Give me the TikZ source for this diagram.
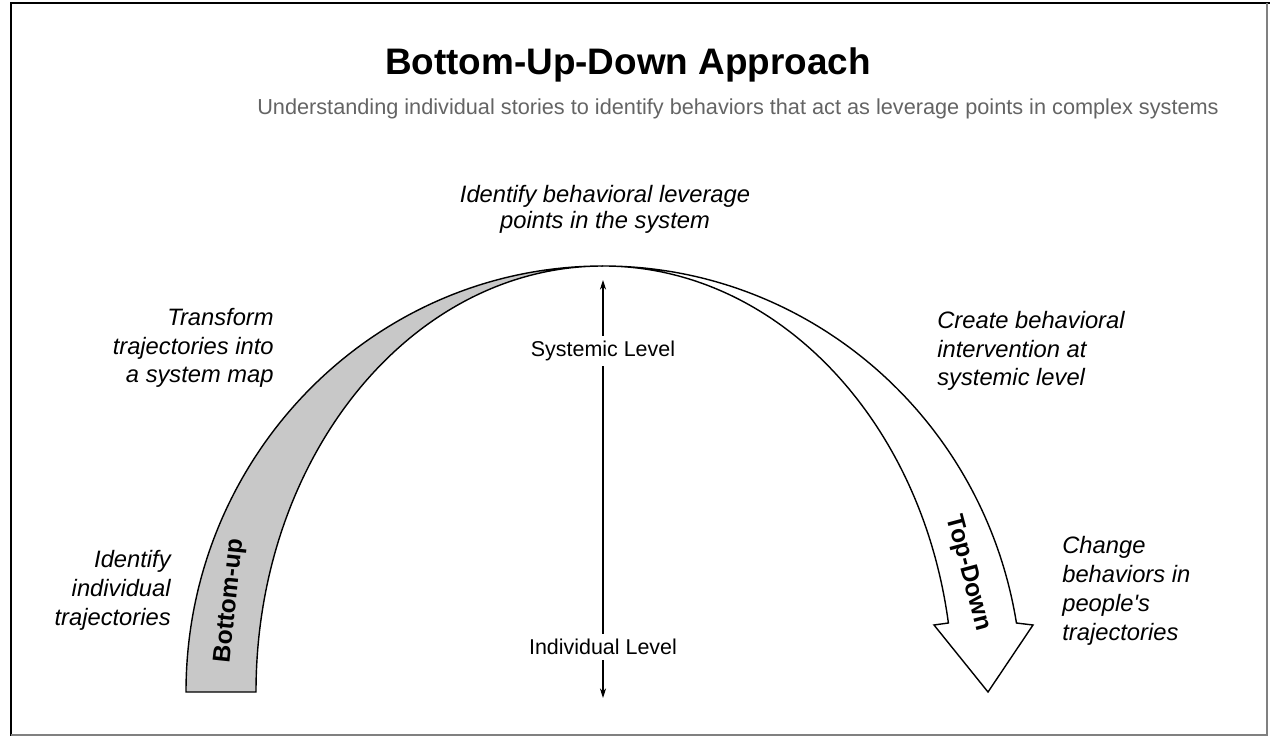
\documentclass[tikz,border=0pt]{standalone}
\usepackage{fontspec}
\setmainfont{Liberation Sans}
\usepackage{xcolor}
\usepackage{tikz}
\usetikzlibrary{positioning, calc, arrows.meta}

\definecolor{bandgray}{RGB}{200,200,200}
\definecolor{subgray}{RGB}{100,100,100}

\begin{document}
\begin{tikzpicture}[x=0.2mm, y=0.2mm]
		\tikzstyle{phase}=[font=\fontsize{13.5}{16.4}\selectfont\itshape, inner sep=0pt]
		\tikzstyle{level}=[font=\fontsize{12.2}{14}\selectfont, fill=white, inner sep=3pt]
		\tikzstyle{band}=[draw=black, line width=0.8pt]
		\tikzstyle{bandlabel}=[font=\fontsize{14}{16}\selectfont\bfseries, inner sep=0pt]
		
		\useasboundingbox (0,0) rectangle (1270,-736);
		\draw[line width=1.6pt] (11,-736) -- (11,-3) -- (1270,-3);
		\draw[gray, line width=0.8pt] (1267,-3) -- (1267,-735) -- (11,-735);
		
		\node (title) at (628,-75) [anchor=base, font=\fontsize{21}{25}\selectfont\bfseries] {Bottom-Up-Down Approach};
		\node (subtitle) at (738,-115) [anchor=base, text=subgray, font=\fontsize{12.35}{14}\selectfont] {Understanding individual stories to identify behaviors that act as leverage points in complex systems};
		
		% bottom-up band
		\draw[band, fill=bandgray] (186,-692) arc[start angle=180, end angle=90, x radius=417, y radius=426]
			arc[start angle=90, end angle=180, x radius=347, y radius=426] -- cycle;
		% top-down arrow
		\draw[band, fill=white] (603,-266) arc[start angle=90, end angle=9.32, x radius=419, y radius=426]
			-- (1033,-625) -- (988,-692) -- (934,-625) -- (948.4,-623)
			arc[start angle=9.32, end angle=90, x radius=350, y radius=426] -- cycle;
		
		\node (bu) at (230,-601) [bandlabel, rotate=84] {Bottom-up};
		\node (td) at (968,-573) [bandlabel, rotate=-75] {Top-Down};
		
		% levels
		\coordinate (systop) at (603,-280);
		\coordinate (indbot) at (603,-698);
		\draw[{Stealth[length=5.5pt,width=3.5pt]}-{Stealth[length=5.5pt,width=3.5pt]}, line width=0.6pt] (systop) -- (indbot);
		\node (sys) at (603,-351) [level] {Systemic Level};
		\node (ind) at (603,-647) [level] {Individual Level};
		
		% steps (base = last line)
		\node (leverage) at (605,-229) [phase, anchor=base, align=center, font=\fontsize{13.5}{15.3}\selectfont\itshape] {Identify behavioral leverage\\points in the system};
		\node (transform) at (274,-383) [phase, anchor=base east, align=right] {Transform\\trajectories into\\a system map};
		\node (identify) at (171,-625) [phase, anchor=base east, align=right] {Identify\\individual\\trajectories};
		\node (create) at (937,-386) [phase, anchor=base west, align=left] {Create behavioral\\intervention at\\systemic level};
		\node (change) at (1062,-640) [phase, anchor=base west, align=left] {Change\\behaviors in\\people\textquotesingle s\\trajectories};
		
\end{tikzpicture}
\end{document}
